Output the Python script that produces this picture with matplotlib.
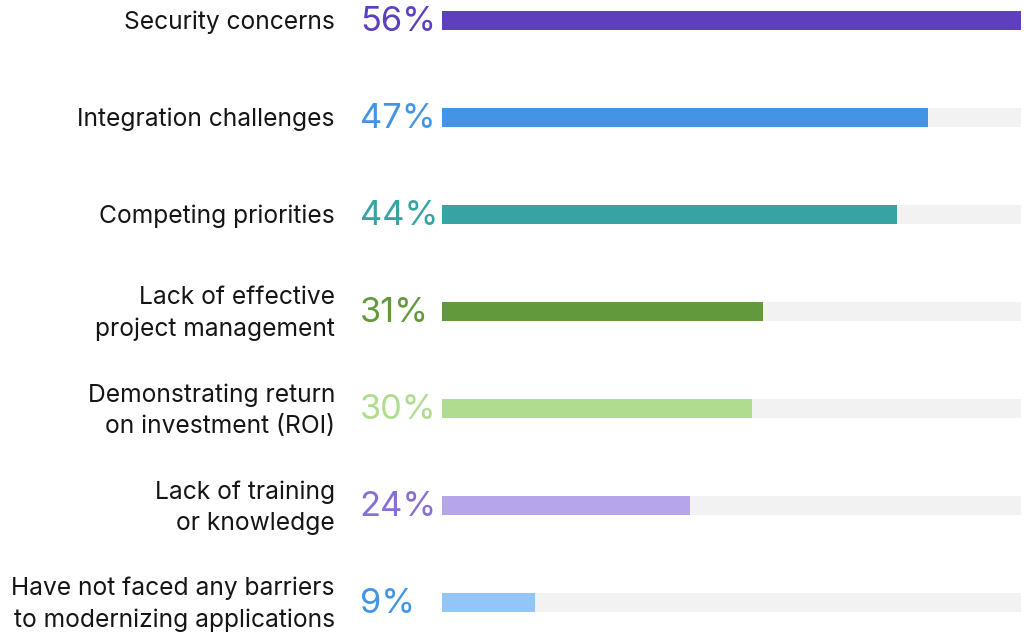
import matplotlib
matplotlib.use('Agg')
import matplotlib.pyplot as plt
import matplotlib.transforms as mtransforms

# data
categories = ['Security concerns', 'Integration challenges', 'Competing priorities',
              'Lack of effective\nproject management', 'Demonstrating return\non investment (ROI)',
              'Lack of training\nor knowledge', 'Have not faced any barriers\nto modernizing applications']
values = [56, 47, 44, 31, 30, 24, 9]
bar_colors = ['#5e40be', '#4394e5', '#37a3a3', '#63993d', '#afdc8f', '#b6a6e9', '#92c5f9']
text_colors = ['#5e40be', '#4394e5', '#37a3a3', '#63993d', '#afdc8f', '#876fd4', '#4394e5']

plt.rcParams['font.family'] = ['Inter', 'DejaVu Sans']

fig = plt.figure(figsize=(10.27, 6.35), dpi=100)
ax = fig.add_axes([442 / 1027, 0, (1021 - 442) / 1027, 1])

y = list(range(len(values)))
h = 19 / 97
# grey track behind each bar
ax.barh(y, [max(values)] * len(values), height=h, color='#f2f2f2', zorder=1)
ax.barh(y, values, height=h, color=bar_colors, zorder=2)

ax.set_xlim(0, max(values))
top = -20 / 97
ax.set_ylim(top + 635 / 97, top)
ax.axis('off')

trans = mtransforms.blended_transform_factory(ax.transAxes, ax.transData)
for i, (cat, v) in enumerate(zip(categories, values)):
    ax.text(-0.185, i + 0.025, cat, transform=trans, ha='right', va='center',
            fontsize=17.7, color='#151515', linespacing=1.45)
    ax.text(-0.142, i + 0.02, f'{v}%', transform=trans, ha='left', va='center',
            fontsize=24.8, color=text_colors[i])

fig.savefig('out.png', dpi=100)
